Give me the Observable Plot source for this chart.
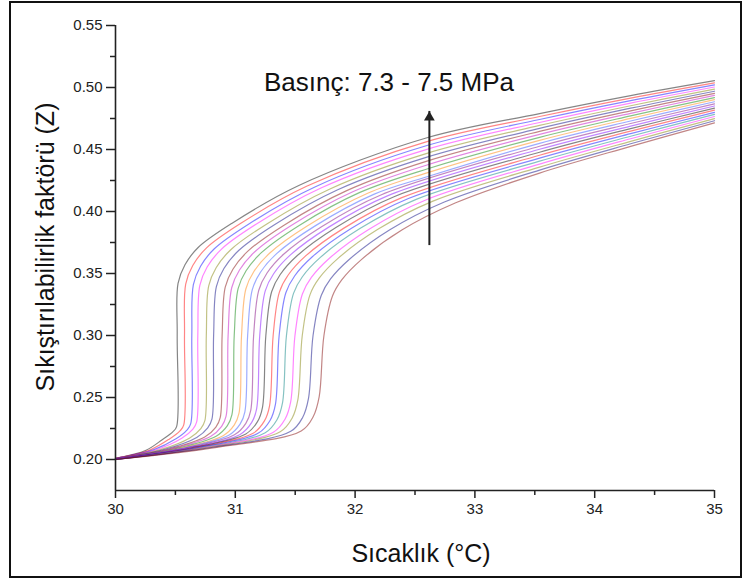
<!DOCTYPE html>
<html>
<head>
<meta charset="utf-8">
<script src="https://cdn.jsdelivr.net/npm/d3@7"></script>
<script src="https://cdn.jsdelivr.net/npm/@observablehq/plot@0.6"></script>
<style>
  html, body { margin: 0; padding: 0; background: #fff; }
  #wrap { position: relative; width: 744px; height: 579px; }
  #border { position: absolute; left: 9px; top: 1px; width: 729px; height: 573px; border: 2px solid #111; pointer-events: none; }
</style>
</head>
<body>
<div id="wrap"><div id="chart"></div><div id="border"></div></div>
<script>
// Pressure levels (MPa): one curve each
const pressures = [7.30,7.31,7.32,7.33,7.34,7.35,7.36,7.37,7.38,7.39,7.40,7.41,7.42,7.43,7.44,7.45,7.46,7.47,7.48,7.49,7.50];

// Curves: [temperature °C, compressibility factor Z]
const c730 = [[30,0.201],[30.255,0.2075],[30.39,0.216],[30.48,0.2225],[30.51,0.2265],[30.515,0.30],[30.522,0.342],[30.58,0.357],[30.69,0.371],[30.98,0.391],[31.53,0.421],[32.6,0.4595],[33.54,0.479],[34.3,0.4935],[35,0.5055]];
const c731 = [[30,0.201],[30.285,0.2076],[30.448,0.2164],[30.538,0.2231],[30.569,0.2277],[30.576,0.30],[30.586,0.3415],[30.645,0.3564],[30.758,0.3705],[31.05,0.3907],[31.595,0.4203],[32.6,0.4564],[33.54,0.4766],[34.3,0.4915],[35,0.5038]];
const c732 = [[30,0.201],[30.315,0.2078],[30.505,0.2167],[30.596,0.2237],[30.628,0.2289],[30.637,0.30],[30.65,0.341],[30.71,0.3558],[30.825,0.37],[31.12,0.3904],[31.66,0.4196],[32.6,0.4532],[33.54,0.4742],[34.3,0.4894],[35,0.5021]];
const c733 = [[30,0.201],[30.34,0.2079],[30.553,0.2171],[30.644,0.2243],[30.677,0.2301],[30.687,0.30],[30.704,0.3405],[30.765,0.3552],[30.883,0.3695],[31.18,0.3901],[31.715,0.4189],[32.6,0.4501],[33.54,0.4718],[34.3,0.4874],[35,0.5004]];
const c734 = [[30,0.201],[30.375,0.208],[30.62,0.2174],[30.712,0.2249],[30.746,0.2313],[30.758,0.30],[30.778,0.34],[30.84,0.3546],[30.96,0.369],[31.26,0.3898],[31.79,0.4182],[32.6,0.4469],[33.54,0.4694],[34.3,0.4853],[35,0.4987]];
const c735 = [[30,0.2005],[30.405,0.2081],[30.678,0.2178],[30.77,0.2255],[30.805,0.2325],[30.819,0.30],[30.842,0.3395],[30.905,0.354],[31.028,0.3685],[31.33,0.3895],[31.855,0.4175],[32.6,0.4438],[33.54,0.467],[34.3,0.4833],[35,0.497]];
const c736 = [[30,0.2005],[30.44,0.2083],[30.745,0.2181],[30.838,0.2261],[30.874,0.2337],[30.89,0.30],[30.916,0.339],[30.98,0.3534],[31.105,0.368],[31.41,0.3892],[31.93,0.4168],[32.6,0.4406],[33.54,0.4646],[34.3,0.4812],[35,0.4953]];
const c737 = [[30,0.2005],[30.465,0.2084],[30.793,0.2185],[30.886,0.2267],[30.923,0.2349],[30.94,0.30],[30.97,0.3385],[31.035,0.3528],[31.163,0.3675],[31.47,0.3889],[31.985,0.4161],[32.6,0.4375],[33.54,0.4622],[34.3,0.4792],[35,0.4936]];
const c738 = [[30,0.2005],[30.49,0.2085],[30.84,0.2188],[30.934,0.2273],[30.972,0.2361],[30.991,0.30],[31.024,0.338],[31.09,0.3522],[31.22,0.367],[31.53,0.3886],[32.04,0.4154],[32.6,0.4343],[33.54,0.4598],[34.3,0.4771],[35,0.4919]];
const c739 = [[30,0.2005],[30.52,0.2086],[30.898,0.2192],[30.992,0.2279],[31.031,0.2373],[31.052,0.30],[31.088,0.3375],[31.155,0.3516],[31.288,0.3665],[31.6,0.3883],[32.105,0.4147],[32.6,0.4312],[33.54,0.4574],[34.3,0.4751],[35,0.4902]];
const c740 = [[30,0.2005],[30.545,0.2088],[30.945,0.2195],[31.04,0.2285],[31.08,0.2385],[31.103,0.30],[31.142,0.337],[31.21,0.351],[31.345,0.366],[31.66,0.388],[32.16,0.414],[32.6,0.428],[33.54,0.455],[34.3,0.473],[35,0.4885]];
const c741 = [[30,0.2005],[30.57,0.2089],[30.993,0.2199],[31.088,0.2291],[31.129,0.2397],[31.153,0.30],[31.196,0.3365],[31.265,0.3504],[31.403,0.3655],[31.72,0.3877],[32.215,0.4133],[33.54,0.4526],[34.3,0.471],[35,0.4868]];
const c742 = [[30,0.2005],[30.595,0.209],[31.04,0.2202],[31.136,0.2297],[31.178,0.2409],[31.204,0.30],[31.25,0.336],[31.32,0.3498],[31.46,0.365],[31.78,0.3874],[32.27,0.4126],[33.54,0.4502],[34.3,0.4689],[35,0.4851]];
const c743 = [[30,0.2],[30.62,0.2091],[31.088,0.2206],[31.184,0.2303],[31.227,0.2421],[31.255,0.30],[31.304,0.3355],[31.375,0.3492],[31.518,0.3645],[31.84,0.3871],[32.325,0.4119],[33.54,0.4478],[34.3,0.4669],[35,0.4834]];
const c744 = [[30,0.2],[30.65,0.2093],[31.145,0.2209],[31.242,0.2309],[31.286,0.2433],[31.316,0.30],[31.368,0.335],[31.44,0.3486],[31.585,0.364],[31.91,0.3868],[32.39,0.4112],[33.54,0.4454],[34.3,0.4648],[35,0.4817]];
const c745 = [[30,0.2],[30.675,0.2094],[31.193,0.2213],[31.29,0.2315],[31.335,0.2445],[31.366,0.30],[31.422,0.3345],[31.495,0.348],[31.643,0.3635],[31.97,0.3865],[32.445,0.4105],[33.54,0.443],[34.3,0.4628],[35,0.48]];
const c746 = [[30,0.2],[30.705,0.2095],[31.25,0.2216],[31.348,0.2321],[31.394,0.2457],[31.427,0.30],[31.486,0.334],[31.56,0.3474],[31.71,0.363],[32.04,0.3862],[32.51,0.4098],[33.54,0.4406],[34.3,0.4607],[35,0.4783]];
const c747 = [[30,0.2],[30.74,0.2096],[31.318,0.222],[31.416,0.2327],[31.463,0.2469],[31.498,0.30],[31.56,0.3335],[31.635,0.3468],[31.788,0.3625],[32.12,0.3859],[32.585,0.4091],[33.54,0.4382],[34.3,0.4587],[35,0.4766]];
const c748 = [[30,0.2],[30.77,0.2098],[31.375,0.2223],[31.474,0.2333],[31.522,0.2481],[31.559,0.30],[31.624,0.333],[31.70,0.3462],[31.855,0.362],[32.19,0.3856],[32.65,0.4084],[33.54,0.4358],[34.3,0.4566],[35,0.4749]];
const c749 = [[30,0.2],[30.815,0.2099],[31.463,0.2227],[31.562,0.2339],[31.611,0.2493],[31.649,0.30],[31.718,0.3325],[31.795,0.3456],[31.953,0.3615],[32.29,0.3853],[32.745,0.4077],[33.54,0.4334],[34.3,0.4546],[35,0.4732]];
const c750 = [[30,0.2],[30.86,0.21],[31.55,0.223],[31.65,0.2345],[31.70,0.2505],[31.74,0.30],[31.812,0.332],[31.89,0.345],[32.05,0.361],[32.39,0.385],[32.84,0.407],[33.54,0.431],[34.3,0.4525],[35,0.4715]];
const curves = [c730,c731,c732,c733,c734,c735,c736,c737,c738,c739,c740,c741,c742,c743,c744,c745,c746,c747,c748,c749,c750];

// Axis ticks
const xMajor = [30, 31, 32, 33, 34, 35];
const xMinor = [30.5, 31.5, 32.5, 33.5, 34.5];
const yMajor = [0.20, 0.25, 0.30, 0.35, 0.40, 0.45, 0.50, 0.55];
const yMinor = [0.225, 0.275, 0.325, 0.375, 0.425, 0.475, 0.525];

// Texts
const xTitle = "Sıcaklık (°C)";
const yTitle = "Sıkıştırılabilirlik faktörü (Z)";
const annotation = "Basınç: 7.3 - 7.5 MPa";
const annotationAt = [32.283, 0.5035];
const arrowAt = [32.62, 0.3725, 0.4807]; // x, tail y, tip y

// Origin-style line colours
const palette = ["#000000","#ff0000","#0000ff","#ff00ff","#808000","#000080","#800000","#c000c0","#008000","#ff8000","#3050ff","#800080","#8000ff","#000000","#ff0000","#0000ff","#008080","#ff00ff","#808000","#000080","#800000"];

const rows = curves.flatMap((pts, i) => pts.map(([T, Z]) => ({T, Z, p: pressures[i], col: palette[i]})));

const chart = Plot.plot({
  width: 744,
  height: 579,
  marginLeft: 115,
  marginRight: 30,
  marginTop: 25,
  marginBottom: 89,
  x: {domain: [30, 35], label: null},
  y: {domain: [0.175, 0.55], label: null},
  color: {type: "identity"},
  style: {fontFamily: "'Liberation Sans', Arial, sans-serif", background: "white", color: "#222", overflow: "visible"},
  marks: [
    Plot.line(rows, {x: "T", y: "Z", z: "p", stroke: "col", strokeWidth: 1.2, strokeOpacity: 0.48, curve: "catmull-rom"}),
    Plot.ruleX([30], {y1: 0.175, y2: 0.55, stroke: "#222", strokeWidth: 1.6}),
    Plot.ruleY([0.175], {x1: 30, x2: 35, stroke: "#222", strokeWidth: 1.6}),
    Plot.axisX(xMajor, {tickSize: 8, tickPadding: 5, fontSize: 15, strokeWidth: 1.5, tickFormat: d => String(d), label: null}),
    Plot.axisX(xMinor, {tickSize: 5, strokeWidth: 1.5, tickFormat: () => "", label: null}),
    Plot.axisY(yMajor, {tickSize: 9, tickPadding: 4, fontSize: 15, strokeWidth: 1.5, tickFormat: d3.format(".2f"), label: null}),
    Plot.axisY(yMinor, {tickSize: 5, strokeWidth: 1.5, tickFormat: () => "", label: null}),
    Plot.text([xTitle], {frameAnchor: "bottom", textAnchor: "middle", lineAnchor: "middle", dx: 6, dy: 63, fontSize: 25, fill: "#111"}),
    Plot.text([yTitle], {frameAnchor: "left", textAnchor: "middle", lineAnchor: "middle", rotate: -90, dx: -70, dy: -11, fontSize: 25, fill: "#111"}),
    Plot.text([annotation], {x: () => annotationAt[0], y: () => annotationAt[1], textAnchor: "middle", lineAnchor: "middle", fontSize: 26, fill: "#111"}),
    Plot.ruleX([arrowAt[0]], {y1: arrowAt[1], y2: arrowAt[2], stroke: "#222", strokeWidth: 2}),
    Plot.dot([arrowAt[0]], {x: d => d, y: () => arrowAt[2], dy: 6, symbol: "triangle", r: 4, fill: "#222", stroke: "none"})
  ]
});
document.getElementById("chart").appendChild(chart);
</script>
</body>
</html>
